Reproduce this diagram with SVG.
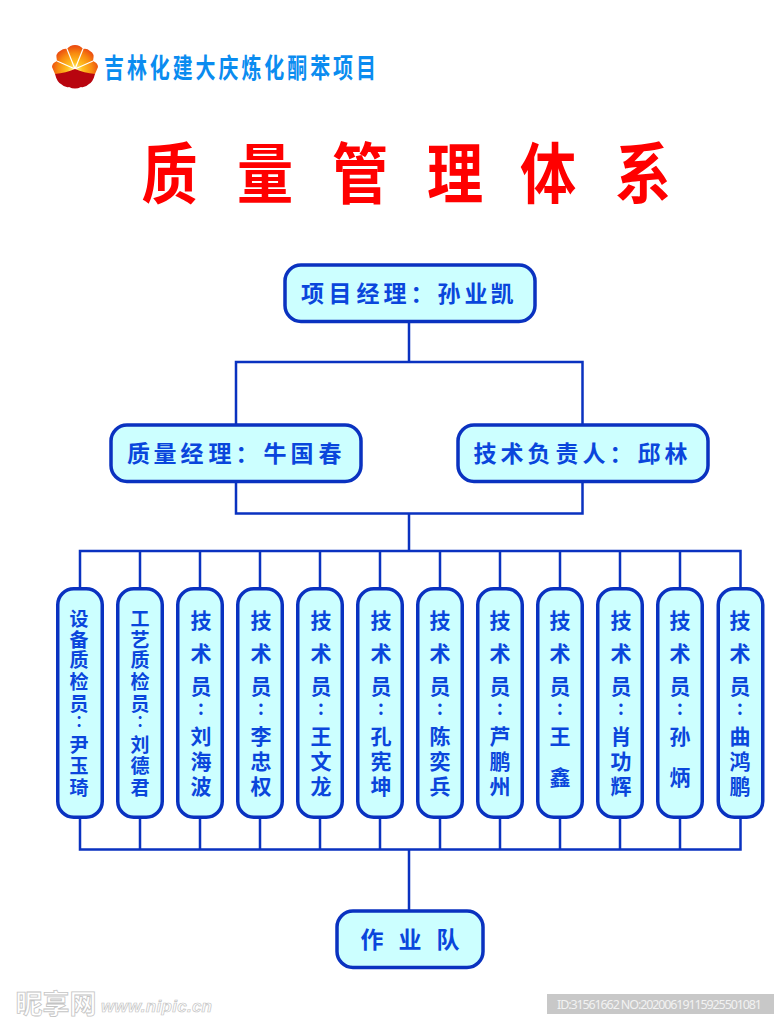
<svg xmlns="http://www.w3.org/2000/svg" width="784" height="1024" viewBox="0 0 784 1024">
<defs>
<radialGradient id="sun" gradientUnits="userSpaceOnUse" cx="75" cy="70" r="26"><stop offset="0" stop-color="#fff6a0"/><stop offset="0.3" stop-color="#ffc020"/><stop offset="0.65" stop-color="#f88a10"/><stop offset="1" stop-color="#e83c10"/></radialGradient>
</defs>
<style>
text{font-family:"Noto Sans CJK SC","Liberation Sans",sans-serif;font-weight:700;text-anchor:middle}
.box{fill:#ccffff;stroke:#0a32c0;stroke-width:3.5}
.c{fill:none;stroke:#0a32c0;stroke-width:2.5}
.h{fill:#0a46dc;font-size:23px}
.v{fill:#0a46dc;font-size:21px}
.s{fill:#0a46dc;font-size:19px}
.d{font-weight:500}
.t{fill:#ff0000;font-size:66px}
.l{fill:#0a8cf0;font-size:27px}
</style>
<rect width="784" height="1024" fill="#fff"/>
<g id="logo">
<path d="M55 74 L52 67 Q52 63 57 61 Q55 53 60 51 Q64 48 67 49 Q70 45 75 45 Q80 45 83 49 Q87 48 90 51 Q95 53 93 61 Q98 63 98 67 L95 74 Z" fill="url(#sun)"/>
<path d="M75 69 L57 61 M75 69 L67 49 M75 69 L83 49 M75 69 L93 61" stroke="#fff" stroke-width="1.2" fill="none"/>
<path d="M55 74 Q66 73 75 69 Q84 73 95 74 Q93 82 89 84 Q85 88 81 87 Q75 90 69 87 Q65 88 61 84 Q57 82 55 74Z" fill="#b8050f"/>
<text class="l" transform="scale(.74 1)" y="78"><tspan x="154.050" y="78">吉</tspan><tspan x="185" y="78">林</tspan><tspan x="215.950" y="78">化</tspan><tspan x="246.900" y="78">建</tspan><tspan x="277.850" y="78">大</tspan><tspan x="308.800" y="78">庆</tspan><tspan x="339.750" y="78">炼</tspan><tspan x="370.700" y="78">化</tspan><tspan x="401.650" y="78">酮</tspan><tspan x="432.600" y="78">苯</tspan><tspan x="463.550" y="78">项</tspan><tspan x="494.500" y="78">目</tspan></text>
</g>
<g id="title"><text class="t" transform="scale(.85 1)"><tspan x="199.400" y="198">质</tspan><tspan x="311.800" y="198">量</tspan><tspan x="423.500" y="198">管</tspan><tspan x="535.300" y="198">理</tspan><tspan x="644.700" y="198">体</tspan><tspan x="756.500" y="198">系</tspan></text></g>
<g id="connectors">
<path class="c" d="M409 322V362H236V425M409 362H582.500V425M236 482V513.500H582.500V482M409 513.500V551M80 588V551H740.500V588"/>
<path class="c" d="M140 551V588M200 551V588M260 551V588M320 551V588M380 551V588M440 551V588M500 551V588M560 551V588M620 551V588M680 551V588"/>
<path class="c" d="M80 818V849.500H740.500V818M140 818V849.500M200 818V849.500M260 818V849.500M320 818V849.500M380 818V849.500M440 818V849.500M500 818V849.500M560 818V849.500M620 818V849.500M680 818V849.500M409 849.500V911"/>
</g>
<g id="n-pm"><rect class="box" x="285" y="265" width="250" height="56.500" rx="16"/><text class="h" y="302"><tspan x="312.500">项</tspan><tspan x="340">目</tspan><tspan x="368">经</tspan><tspan x="395">理</tspan><tspan x="422">：</tspan><tspan x="449">孙</tspan><tspan x="476">业</tspan><tspan x="502">凯</tspan></text></g>
<g id="n-qm"><rect class="box" x="111" y="425" width="250" height="56.500" rx="16"/><text class="h" y="462"><tspan x="138.500">质</tspan><tspan x="165">量</tspan><tspan x="192">经</tspan><tspan x="220">理</tspan><tspan x="247">：</tspan><tspan x="275">牛</tspan><tspan x="302">国</tspan><tspan x="330">春</tspan></text></g>
<g id="n-tech"><rect class="box" x="458" y="425" width="250" height="56.500" rx="16"/><text class="h" y="462"><tspan x="485">技</tspan><tspan x="512">术</tspan><tspan x="539">负</tspan><tspan x="567">责</tspan><tspan x="594">人</tspan><tspan x="621">：</tspan><tspan x="649">邱</tspan><tspan x="676">林</tspan></text></g>
<g id="n1"><rect class="box" x="57.750" y="588.750" width="44.500" height="228.500" rx="16"/><text class="s"><tspan x="79" y="626">设</tspan><tspan x="79" y="647">备</tspan><tspan x="79" y="667">质</tspan><tspan x="79" y="689">检</tspan><tspan x="79" y="711">员</tspan><tspan x="79" y="727" class="d">:</tspan><tspan x="79" y="752">尹</tspan><tspan x="79" y="773">玉</tspan><tspan x="79" y="795">琦</tspan></text></g>
<g id="n2"><rect class="box" x="117.750" y="588.750" width="44.500" height="228.500" rx="16"/><text class="s"><tspan x="140" y="626">工</tspan><tspan x="140" y="647">艺</tspan><tspan x="140" y="667">质</tspan><tspan x="140" y="689">检</tspan><tspan x="140" y="711">员</tspan><tspan x="140" y="727" class="d">:</tspan><tspan x="140" y="752">刘</tspan><tspan x="140" y="773">德</tspan><tspan x="140" y="795">君</tspan></text></g>
<g id="n3"><rect class="box" x="177.750" y="588.750" width="44.500" height="228.500" rx="16"/><text class="v"><tspan x="201" y="628">技</tspan><tspan x="201" y="661">术</tspan><tspan x="201" y="694">员</tspan><tspan x="201" y="714.500" class="d">:</tspan><tspan x="201" y="744">刘</tspan><tspan x="201" y="769">海</tspan><tspan x="201" y="794">波</tspan></text></g>
<g id="n4"><rect class="box" x="237.750" y="588.750" width="44.500" height="228.500" rx="16"/><text class="v"><tspan x="261" y="628">技</tspan><tspan x="261" y="661">术</tspan><tspan x="261" y="694">员</tspan><tspan x="261" y="714.500" class="d">:</tspan><tspan x="261" y="744">李</tspan><tspan x="261" y="769">忠</tspan><tspan x="261" y="794">权</tspan></text></g>
<g id="n5"><rect class="box" x="297.750" y="588.750" width="44.500" height="228.500" rx="16"/><text class="v"><tspan x="321" y="628">技</tspan><tspan x="321" y="661">术</tspan><tspan x="321" y="694">员</tspan><tspan x="321" y="714.500" class="d">:</tspan><tspan x="321" y="744">王</tspan><tspan x="321" y="769">文</tspan><tspan x="321" y="794">龙</tspan></text></g>
<g id="n6"><rect class="box" x="357.750" y="588.750" width="44.500" height="228.500" rx="16"/><text class="v"><tspan x="381" y="628">技</tspan><tspan x="381" y="661">术</tspan><tspan x="381" y="694">员</tspan><tspan x="381" y="714.500" class="d">:</tspan><tspan x="381" y="744">孔</tspan><tspan x="381" y="769">宪</tspan><tspan x="381" y="794">坤</tspan></text></g>
<g id="n7"><rect class="box" x="417.750" y="588.750" width="44.500" height="228.500" rx="16"/><text class="v"><tspan x="440" y="628">技</tspan><tspan x="440" y="661">术</tspan><tspan x="440" y="694">员</tspan><tspan x="440" y="714.500" class="d">:</tspan><tspan x="440" y="744">陈</tspan><tspan x="440" y="769">奕</tspan><tspan x="440" y="794">兵</tspan></text></g>
<g id="n8"><rect class="box" x="477.750" y="588.750" width="44.500" height="228.500" rx="16"/><text class="v"><tspan x="500" y="628">技</tspan><tspan x="500" y="661">术</tspan><tspan x="500" y="694">员</tspan><tspan x="500" y="714.500" class="d">:</tspan><tspan x="500" y="744">芦</tspan><tspan x="500" y="769">鹏</tspan><tspan x="500" y="794">州</tspan></text></g>
<g id="n9"><rect class="box" x="537.750" y="588.750" width="44.500" height="228.500" rx="16"/><text class="v"><tspan x="560" y="628">技</tspan><tspan x="560" y="661">术</tspan><tspan x="560" y="694">员</tspan><tspan x="560" y="714.500" class="d">:</tspan><tspan x="560" y="744">王</tspan><tspan x="560" y="785">鑫</tspan></text></g>
<g id="n10"><rect class="box" x="597.750" y="588.750" width="44.500" height="228.500" rx="16"/><text class="v"><tspan x="621" y="628">技</tspan><tspan x="621" y="661">术</tspan><tspan x="621" y="694">员</tspan><tspan x="621" y="714.500" class="d">:</tspan><tspan x="621" y="744">肖</tspan><tspan x="621" y="769">功</tspan><tspan x="621" y="794">辉</tspan></text></g>
<g id="n11"><rect class="box" x="657.750" y="588.750" width="44.500" height="228.500" rx="16"/><text class="v"><tspan x="680" y="628">技</tspan><tspan x="680" y="661">术</tspan><tspan x="680" y="694">员</tspan><tspan x="680" y="714.500" class="d">:</tspan><tspan x="680" y="744">孙</tspan><tspan x="680" y="785">炳</tspan></text></g>
<g id="n12"><rect class="box" x="718.250" y="588.750" width="44.500" height="228.500" rx="16"/><text class="v"><tspan x="740" y="628">技</tspan><tspan x="740" y="661">术</tspan><tspan x="740" y="694">员</tspan><tspan x="740" y="714.500" class="d">:</tspan><tspan x="740" y="744">曲</tspan><tspan x="740" y="769">鸿</tspan><tspan x="740" y="794">鹏</tspan></text></g>
<g id="n-team"><rect class="box" x="337" y="911" width="146" height="56.500" rx="16"/><text class="h" y="948"><tspan x="372">作</tspan><tspan x="410">业</tspan><tspan x="448">队</tspan></text></g>
<g id="watermark">
<text x="56" y="1014" font-size="27" style="fill:#fff;stroke:#c4c4c4;stroke-width:.8;font-weight:700">昵享网</text>
<text x="156.500" y="1012" font-size="17" textLength="111" style="fill:#fff;stroke:#c4c4c4;stroke-width:.7;font-family:'Liberation Sans',sans-serif;font-weight:700;font-style:italic">www.nipic.cn</text>
<rect x="547" y="994" width="227" height="20" fill="#c8c8c8"/>
<text x="659.500" y="1008.500" font-size="12.500" textLength="205" style="fill:#f2f2f2;font-family:'Noto Sans',sans-serif;font-weight:400">ID:31561662 NO:20200619115925501081</text>
</g>
</svg>
